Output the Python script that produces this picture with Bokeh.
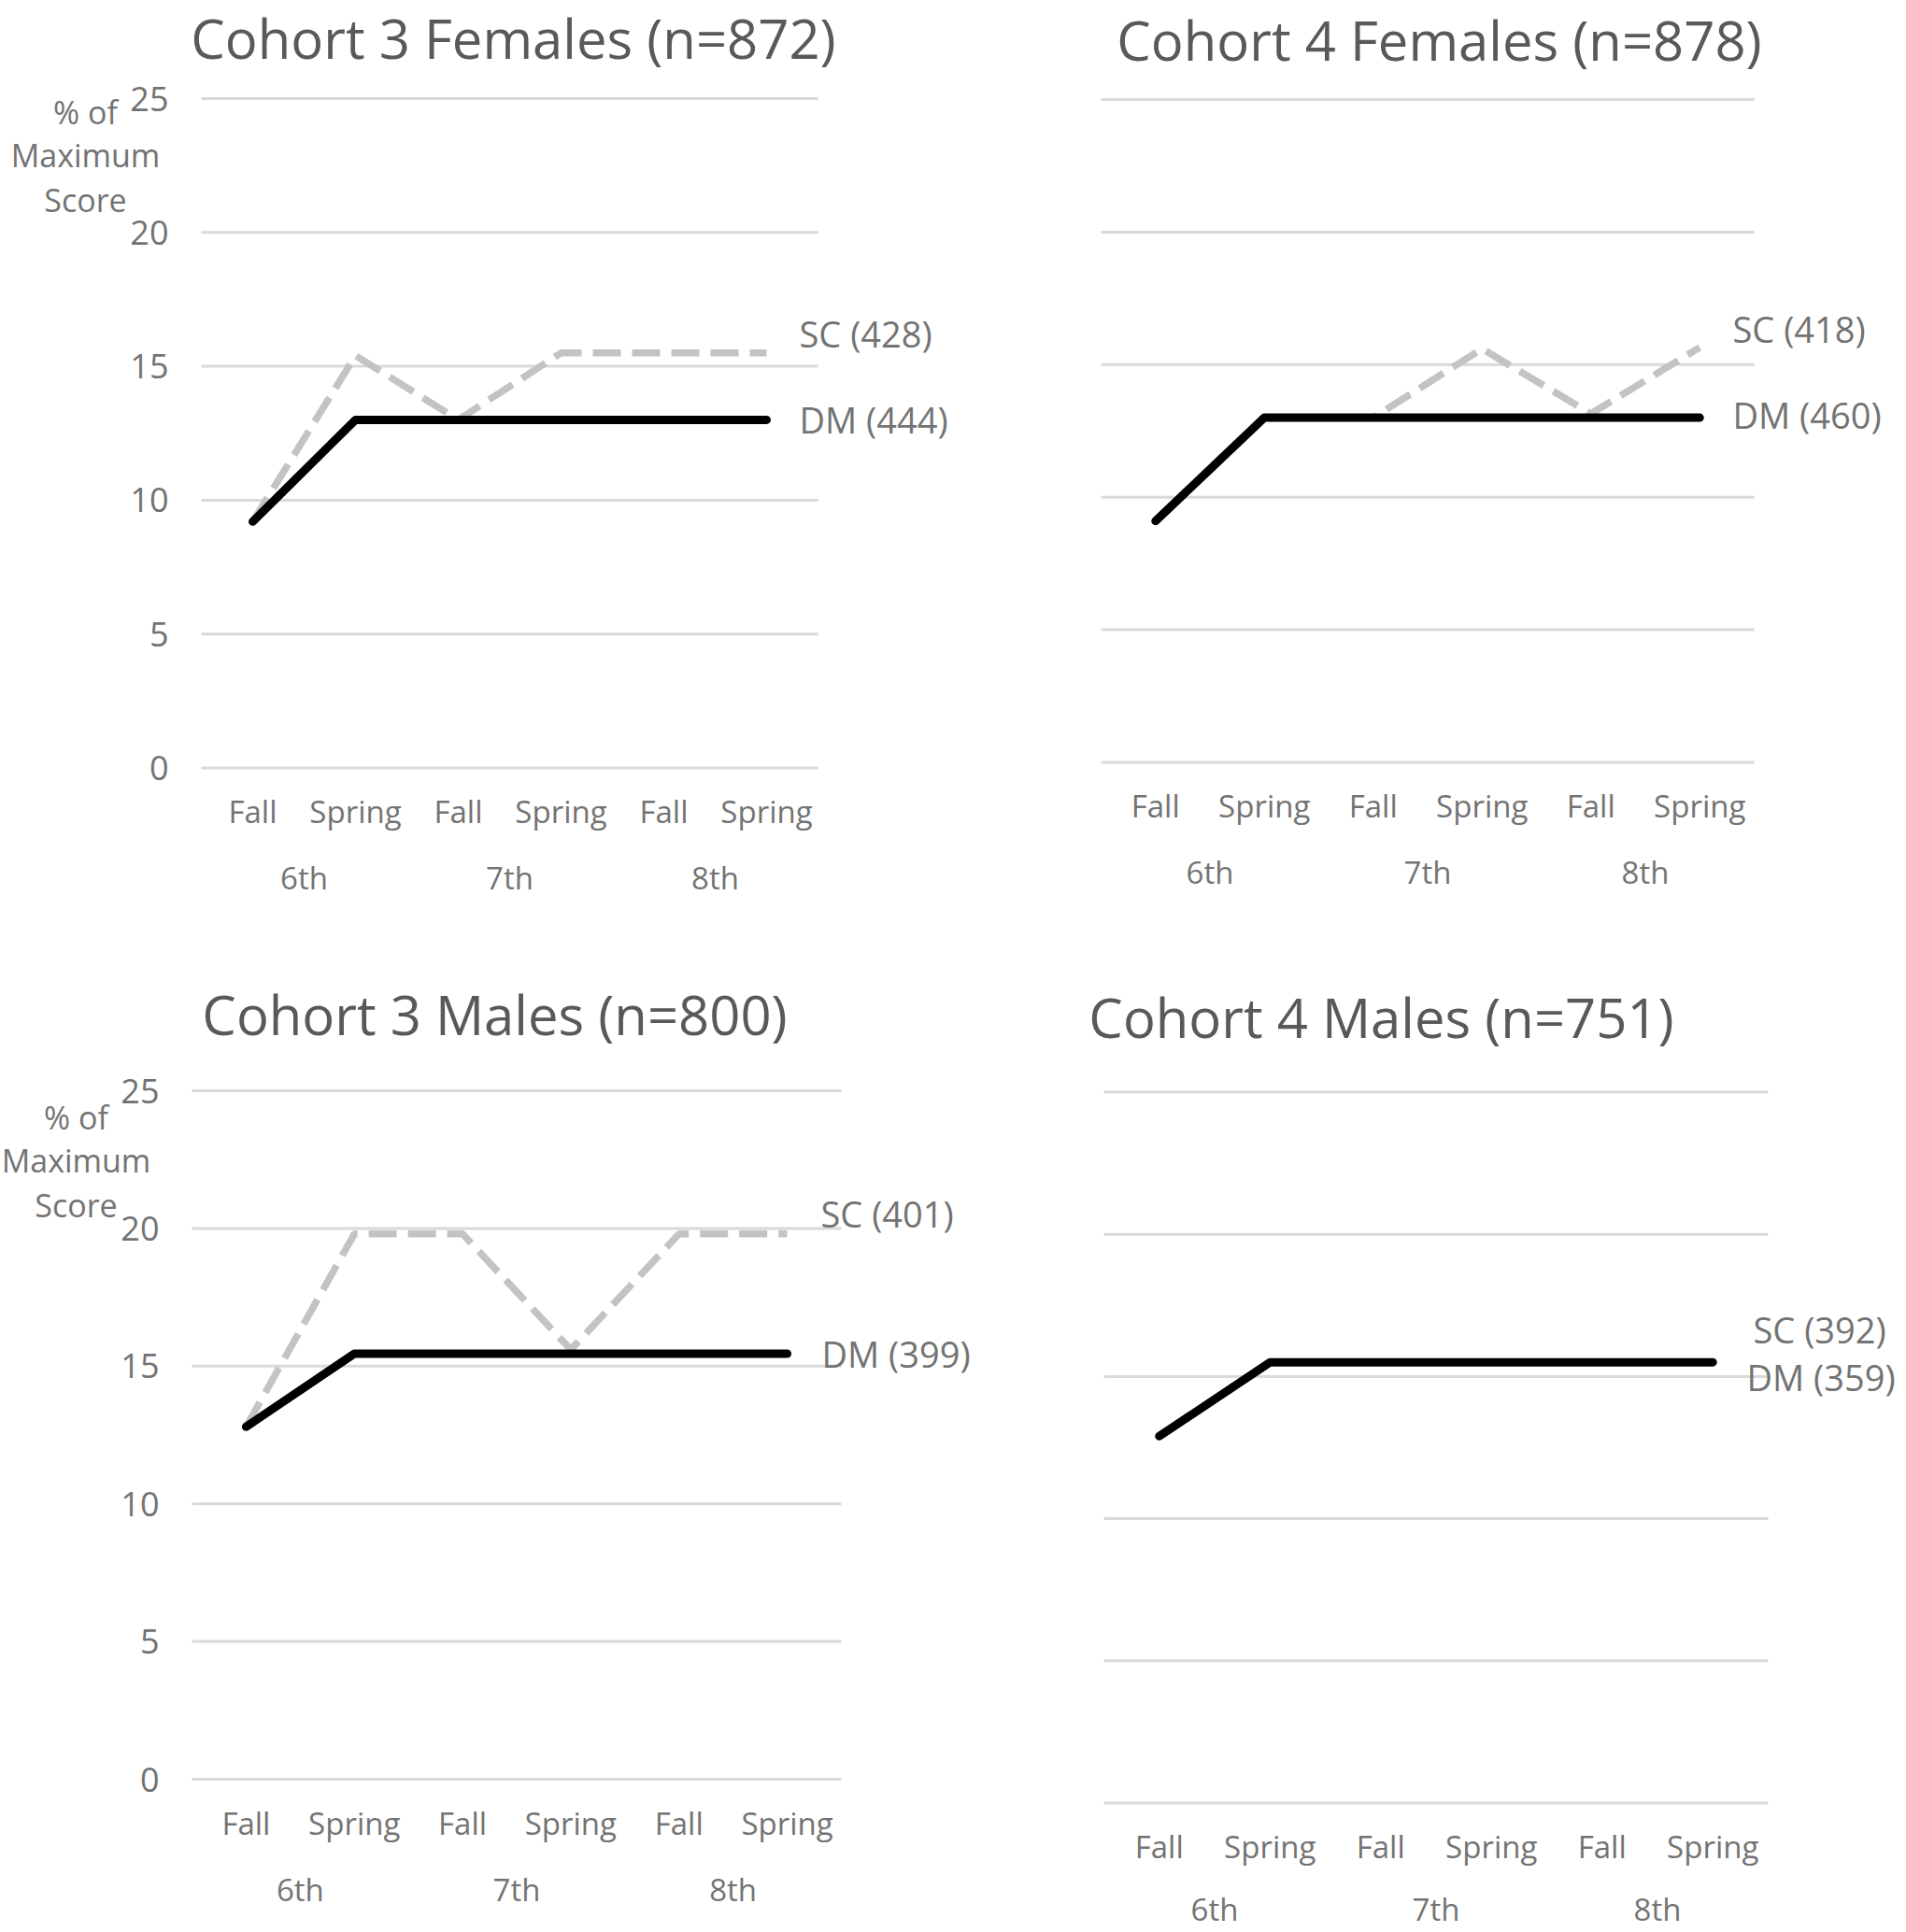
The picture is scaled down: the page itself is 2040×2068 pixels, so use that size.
from bokeh.plotting import figure
from bokeh.models import Range1d, FixedTicker, Label, LinearAxis
from bokeh.layouts import column, row
from bokeh.embed import file_html
from bokeh.resources import INLINE

# ---------------- data ----------------
grades = ["6th", "7th", "8th"]
terms = ["Fall", "Spring"]
periods = [(g, t) for g in grades for t in terms]
y_ticks = [0, 5, 10, 15, 20, 25]

titles = ["Cohort 3 Females (n=872)", "Cohort 4 Females (n=878)",
          "Cohort 3 Males (n=800)", "Cohort 4 Males (n=751)"]
sc_names = ["SC (428)", "SC (418)", "SC (401)", "SC (392)"]
dm_names = ["DM (444)", "DM (460)", "DM (399)", "DM (359)"]
y_title_lines = ["% of", "Maximum", "Score"]

c3f_sc = [9.2, 15.4, 13.0, 15.5, 15.5, 15.5]
c3f_dm = [9.2, 13.0, 13.0, 13.0, 13.0, 13.0]
c4f_sc = [9.1, 13.0, 13.0, 15.6, 13.15, 15.65]
c4f_dm = [9.1, 13.0, 13.0, 13.0, 13.0, 13.0]
c3m_sc = [12.8, 19.8, 19.8, 15.6, 19.8, 19.8]
c3m_dm = [12.8, 15.45, 15.45, 15.45, 15.45, 15.45]
c4m_sc = [12.9, 15.5, 15.5, 15.5, 15.5, 15.5]
c4m_dm = [12.9, 15.5, 15.5, 15.5, 15.5, 15.5]

# ---------------- style ----------------
FONT = "Open Sans"
TXT = "#737373"
TITLE_C = "#595959"
GRID_C = "#d9d9d9"
SC_C = "#c3c3c3"

x_pos = [k + 0.5 for k in range(len(periods))]          # category centres
term_labels = {x: t for x, (g, t) in zip(x_pos, periods)}
grade_ticks = [2 * k + 1 for k in range(len(grades))]   # centre of each grade pair
grade_labels = {x: g for x, g in zip(grade_ticks, grades)}


def panel(idx, sc, dm, rect, X0, band, Y0, unit, title_xy, sc_xy, dm_xy,
          grade_standoff=95, ytick_standoff=None, ytitle=None):
    left, top, right, bottom = rect

    def dx(px):
        return (px - X0) / band

    def dy(py):
        return (Y0 - py) / unit

    p = figure(x_range=Range1d(dx(left), dx(right)),
               y_range=Range1d(dy(bottom), dy(top)),
               width=right - left, height=bottom - top, min_border=0,
               x_axis_location=None, y_axis_location=None,
               output_backend="svg", toolbar_location=None)
    p.outline_line_color = None
    p.background_fill_color = "white"
    p.border_fill_color = "white"
    p.grid.visible = False
    p.title.visible = False

    # horizontal gridlines over the category area
    n = len(x_pos)
    p.segment(x0=[0] * len(y_ticks), x1=[n] * len(y_ticks), y0=y_ticks, y1=y_ticks,
              line_color=GRID_C, line_width=3)

    # y axis (tick labels only)
    if ytick_standoff is not None:
        ya = LinearAxis(fixed_location=0, ticker=FixedTicker(ticks=y_ticks))
        ya.axis_line_color = None
        ya.major_tick_line_color = None
        ya.minor_tick_line_color = None
        ya.major_tick_out = 0
        ya.major_tick_in = 0
        ya.major_label_standoff = ytick_standoff
        ya.major_label_text_font = FONT
        ya.major_label_text_font_size = "36px"
        ya.major_label_text_color = TXT
        p.add_layout(ya, "left")

    # x axes: terms and grades
    for ticks, labels, standoff in ((x_pos, term_labels, 24),
                                    (grade_ticks, grade_labels, grade_standoff)):
        xa = LinearAxis(fixed_location=0, ticker=FixedTicker(ticks=ticks),
                        major_label_overrides=labels)
        xa.axis_line_color = None
        xa.major_tick_line_color = None
        xa.minor_tick_line_color = None
        xa.major_tick_out = 0
        xa.major_tick_in = 0
        xa.major_label_standoff = standoff
        xa.major_label_text_font = FONT
        xa.major_label_text_font_size = "33px"
        xa.major_label_text_color = TXT
        p.add_layout(xa, "below")

    # series
    p.line(x=x_pos, y=sc, line_color=SC_C, line_width=7.5, line_dash="30 12")
    p.line(x=x_pos, y=dm, line_color="black", line_width=9,
           line_cap="round", line_join="round")

    # title
    tx, ty = title_xy
    p.add_layout(Label(x=dx(tx), y=dy(ty), text=titles[idx], text_font=FONT,
                       text_font_size="58px", text_color=TITLE_C,
                       text_align="center", text_baseline="middle"))

    # series labels
    for (lx, ly), txt in ((sc_xy, sc_names[idx]), (dm_xy, dm_names[idx])):
        p.add_layout(Label(x=dx(lx), y=dy(ly), text=txt, text_font=FONT,
                           text_font_size="38px", text_color=TXT,
                           text_align="left", text_baseline="middle"))

    # y axis title
    if ytitle is not None:
        yx, yys = ytitle
        for txt, yy in zip(y_title_lines, yys):
            p.add_layout(Label(x=dx(yx), y=dy(yy), text=txt, text_font=FONT,
                               text_font_size="34px", text_color=TXT,
                               text_align="center", text_baseline="middle"))
    return p


p1 = panel(0, c3f_sc, c3f_dm, (0, 0, 1050, 1040), 215, 110.0, 821.5, 28.66,
           (549, 40), (855, 356), (855, 448),
           ytick_standoff=35, ytitle=(91, [119, 165, 213]))
p2 = panel(1, c4f_sc, c4f_dm, (1050, 0, 2040, 1040), 1178, 116.5, 815.5, 28.38,
           (1540, 42), (1854, 351), (1854, 443))
p3 = panel(2, c3m_sc, c3m_dm, (0, 1040, 1100, 2068), 205, 115.83, 1904, 29.48,
           (529, 1085), (878, 1298), (879, 1448),
           ytick_standoff=35, ytitle=(81, [1195, 1241, 1289]))
p4 = panel(3, c4m_sc, c4m_dm, (1100, 1040, 2040, 2068), 1181, 118.5, 1929.5, 30.44,
           (1478, 1088), (1876, 1422), (1869, 1473), grade_standoff=91)

layout = column(row(p1, p2), row(p3, p4))

open("out.html", "w").write(file_html(layout, INLINE))
